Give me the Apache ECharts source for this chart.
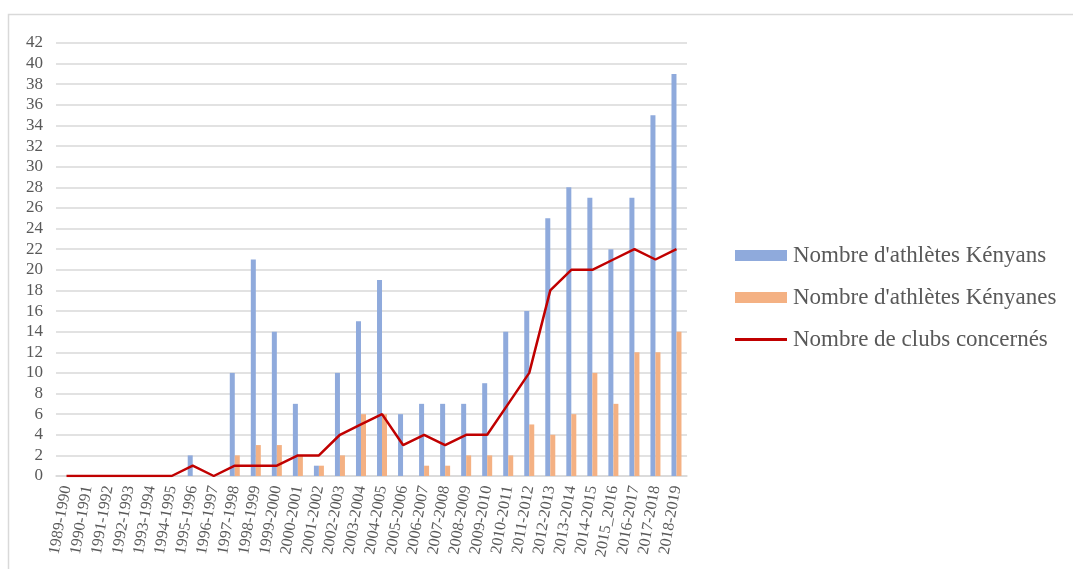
<!DOCTYPE html>
<html>
<head>
<meta charset="utf-8">
<script src="https://cdn.jsdelivr.net/npm/echarts@6/dist/echarts.min.js"></script>
<style>
html,body{margin:0;padding:0;background:#fff;}
#c{width:1073px;height:569px;}
</style>
</head>
<body>
<div id="c"></div>
<script>
const categories = ['1989-1990','1990-1991','1991-1992','1992-1993','1993-1994','1994-1995','1995-1996','1996-1997','1997-1998','1998-1999','1999-2000','2000-2001','2001-2002','2002-2003','2003-2004','2004-2005','2005-2006','2006-2007','2007-2008','2008-2009','2009-2010','2010-2011','2011-2012','2012-2013','2013-2014','2014-2015','2015_2016','2016-2017','2017-2018','2018-2019'];
const athletesKenyans = [0,0,0,0,0,0,2,0,10,21,14,7,1,10,15,19,6,7,7,7,9,14,16,25,28,27,22,27,35,39];
const athletesKenyanes = [0,0,0,0,0,0,0,0,2,3,3,2,1,2,6,6,0,1,1,2,2,2,5,4,6,10,7,12,12,14];
const clubs = [0,0,0,0,0,0,1,0,1,1,1,2,2,4,5,6,3,4,3,4,4,7,10,18,20,20,21,22,21,22];
const seriesNames = ["Nombre d'athlètes Kényans","Nombre d'athlètes Kényanes","Nombre de clubs concernés"];

const chart = echarts.init(document.getElementById('c'), null, {renderer:'canvas'});
const font = "'Liberation Serif', 'Times New Roman', serif";
chart.setOption({
  animation:false,
  textStyle:{fontFamily:font},
  graphic:[{type:'rect',shape:{x:8.5,y:14.5,width:1080,height:600},style:{fill:'none',stroke:'#d9d9d9',lineWidth:1.5},silent:true,z:-1}],
  grid:{left:56,right:386,top:43,bottom:93,containLabel:false},
  legend:{
    orient:'vertical',left:730,top:239,itemGap:19,itemWidth:52,itemHeight:11,
    textStyle:{fontFamily:font,fontSize:23,color:'#595959',padding:[0,0,0,1]},
    data:[
      {name:seriesNames[0],icon:'rect'},
      {name:seriesNames[1],icon:'rect'},
      {name:seriesNames[2],icon:'path://M0,0 L52,0 L52,3 L0,3 Z'}
    ]
  },
  xAxis:{
    type:'category',data:categories,
    axisLine:{lineStyle:{color:'#d9d9d9',width:1.5}},
    axisTick:{show:false},
    axisLabel:{rotate:80,interval:0,fontFamily:font,fontSize:16,color:'#595959',margin:10}
  },
  yAxis:{
    type:'value',min:0,max:42,interval:2,
    axisLine:{show:false},axisTick:{show:false},
    splitLine:{lineStyle:{color:'#d9d9d9',width:1.5}},
    axisLabel:{fontFamily:font,fontSize:17,color:'#595959',margin:13}
  },
  series:[
    {name:seriesNames[0],type:'bar',data:athletesKenyans,barWidth:5,barGap:'0%',itemStyle:{color:'#8faadc'}},
    {name:seriesNames[1],type:'bar',data:athletesKenyanes,barWidth:5,barGap:'0%',itemStyle:{color:'#f4b183'}},
    {name:seriesNames[2],type:'line',data:clubs,symbol:'none',lineStyle:{color:'#c00000',width:2.5},itemStyle:{color:'#c00000'}}
  ]
});
</script>
</body>
</html>
